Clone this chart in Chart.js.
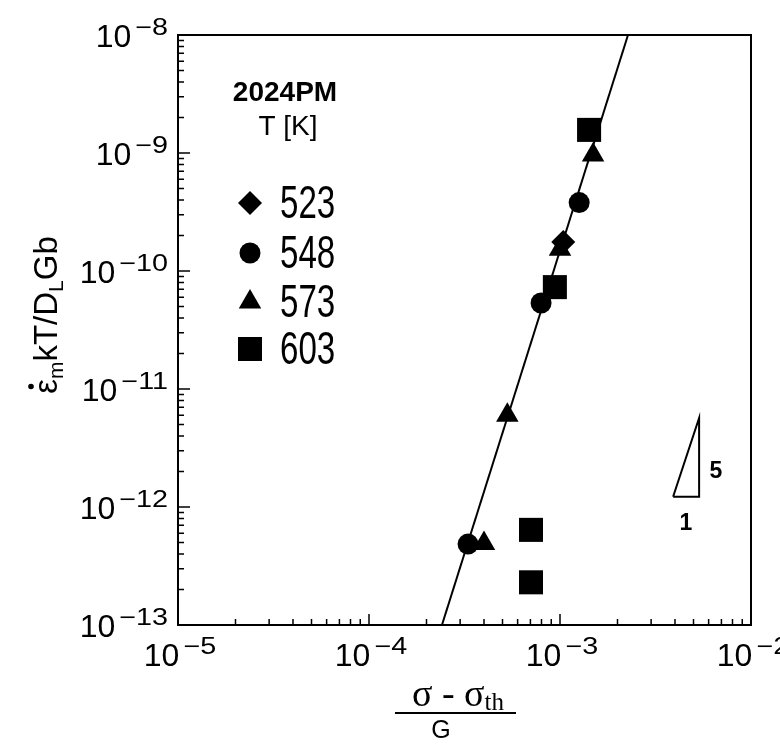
<!DOCTYPE html>
<html>
<head>
<meta charset="utf-8">
<script src="https://cdn.jsdelivr.net/npm/chart.js@4.4.0/dist/chart.umd.min.js"></script>
<style>
  html, body { margin: 0; padding: 0; background: #fff; }
  canvas { display: block; }
</style>
</head>
<body>
<canvas id="chart" width="780" height="748"></canvas>
<script>
// Series: x = (sigma - sigma_th)/G, y = strain rate * kT / (D_L G b)
const temps = ['523', '548', '573', '603'];
const markers = ['rectRot', 'circle', 'triangle', 'rect'];
const markerSizes = [12, 10.5, 13, 17];

const x523 = [1.04e-3];
const y523 = [1.76e-10];
const x548 = [3.3e-4, 7.96e-4, 1.26e-3];
const y548 = [4.85e-13, 5.36e-11, 3.8e-10];
const x573 = [4.0e-4, 5.3e-4, 1.0e-3, 1.49e-3];
const y573 = [4.9e-13, 6.0e-12, 1.53e-10, 9.6e-10];
const x603 = [7.05e-4, 7.05e-4, 9.4e-4, 1.42e-3];
const y603 = [6.4e-13, 2.3e-13, 7.3e-11, 1.57e-9];

// fitted line (slope 5) and the slope triangle
const fitX = [2.41e-4, 2.27e-3];
const fitY = [1e-13, 1e-8];
const slopeX = [3.91e-3, 5.35e-3, 5.35e-3, 3.91e-3];
const slopeY = [1.22e-12, 1.22e-12, 5.68e-12, 1.22e-12];

// axis decades (tick labels are 10^n)
const xDecades = [-5, -4, -3, -2];
const yDecades = [-13, -12, -11, -10, -9, -8];

function pts(xs, ys) {
    return xs.map((x, i) => ({ x: x, y: ys[i] }));
}

const seriesX = [x523, x548, x573, x603];
const seriesY = [y523, y548, y573, y603];

const datasets = [
    {
        type: 'line',
        data: pts(fitX, fitY),
        borderColor: '#000',
        borderWidth: 2,
        pointRadius: 0,
        fill: false
    },
    {
        type: 'line',
        data: pts(slopeX, slopeY),
        borderColor: '#000',
        borderWidth: 2,
        pointRadius: 0,
        fill: false
    }
];
temps.forEach((t, i) => {
    datasets.push({
        type: 'scatter',
        label: t,
        data: pts(seriesX[i], seriesY[i]),
        pointStyle: markers[i],
        pointRadius: markerSizes[i],
        pointHoverRadius: markerSizes[i],
        backgroundColor: '#000',
        borderColor: '#000',
        borderWidth: 0
    });
});

const SANS = '"Liberation Sans", Arial, sans-serif';
const SERIF = '"Liberation Serif", "Times New Roman", serif';

function powLabel(ctx, exp, x, y, align) {
    const base = '10';
    const sup = '\u2212' + Math.abs(exp);
    ctx.font = '32px ' + SANS;
    const wb = ctx.measureText(base).width;
    ctx.font = '23px ' + SANS;
    const ws = ctx.measureText(sup).width * 1.25;
    const gap = 4;
    const total = wb + gap + ws;
    let x0 = align === 'right' ? x - total : x - total / 2;
    ctx.textAlign = 'left';
    ctx.textBaseline = 'middle';
    ctx.font = '32px ' + SANS;
    ctx.fillText(base, x0, y + 1);
    ctx.save();
    ctx.translate(x0 + wb + gap, y - 8);
    ctx.scale(1.25, 1);
    ctx.font = '23px ' + SANS;
    ctx.fillText(sup, 0, 0);
    ctx.restore();
}

// draws runs of text along a baseline starting at x, returns the end x
function drawRuns(ctx, runs, x, y) {
    ctx.textAlign = 'left';
    ctx.textBaseline = 'alphabetic';
    runs.forEach(r => {
        ctx.font = r.font;
        ctx.fillText(r.t, x, y + (r.dy || 0));
        if (r.dot) {
            const w = ctx.measureText(r.t).width;
            ctx.beginPath();
            ctx.arc(x + w / 2, y - 26, 2.8, 0, Math.PI * 2);
            ctx.fill();
        }
        x += ctx.measureText(r.t).width;
    });
    return x;
}
function runsWidth(ctx, runs) {
    let w = 0;
    runs.forEach(r => { ctx.font = r.font; w += ctx.measureText(r.t).width; });
    return w;
}

const frame = {
    id: 'frame',
    afterDraw(chart) {
        const ctx = chart.ctx;
        const a = chart.chartArea;
        const xs = chart.scales.x, ys = chart.scales.y;
        ctx.save();
        ctx.fillStyle = '#000';
        ctx.strokeStyle = '#000';

        // box
        ctx.lineWidth = 2;
        ctx.strokeRect(a.left, a.top, a.right - a.left, a.bottom - a.top);

        // inward ticks on bottom and left axes
        ctx.lineWidth = 1.5;
        ctx.beginPath();
        for (let d = xDecades[0]; d < xDecades[xDecades.length - 1]; d++) {
            for (let m = 1; m <= 9; m++) {
                const px = xs.getPixelForValue(m * Math.pow(10, d));
                ctx.moveTo(px, a.bottom);
                ctx.lineTo(px, a.bottom - (m === 1 ? 11 : 6));
            }
        }
        for (let d = yDecades[0]; d < yDecades[yDecades.length - 1]; d++) {
            for (let m = 1; m <= 9; m++) {
                const py = ys.getPixelForValue(m * Math.pow(10, d));
                ctx.moveTo(a.left, py);
                ctx.lineTo(a.left + (m === 1 ? 12 : 6), py);
            }
        }
        ctx.stroke();

        // tick labels
        xDecades.forEach(d => powLabel(ctx, d, xs.getPixelForValue(Math.pow(10, d)) + 2, 656, 'center'));
        yDecades.forEach(d => powLabel(ctx, d, 168, ys.getPixelForValue(Math.pow(10, d)) + 2, 'right'));

        // legend header
        ctx.textAlign = 'center';
        ctx.textBaseline = 'middle';
        ctx.font = 'bold 28px ' + SANS;
        ctx.fillText('2024PM', 285, 93);
        ctx.font = '28px ' + SANS;
        ctx.fillText('T [K]', 288, 127);

        // legend entries
        const legY = [203, 253, 302, 349];
        temps.forEach((t, i) => {
            const opts = { pointStyle: markers[i], radius: markerSizes[i], rotation: 0, borderWidth: 0 };
            if (Chart.helpers && Chart.helpers.drawPoint) {
                ctx.fillStyle = '#000';
                ctx.strokeStyle = '#000';
                Chart.helpers.drawPoint(ctx, opts, 250, legY[i]);
            }
            ctx.save();
            ctx.translate(280, legY[i] + 2);
            ctx.scale(0.72, 1);
            ctx.font = '46px ' + SANS;
            ctx.textAlign = 'left';
            ctx.textBaseline = 'middle';
            ctx.fillText(t, 0, 0);
            ctx.restore();
        });

        // slope triangle labels
        ctx.font = 'bold 23px ' + SANS;
        ctx.textAlign = 'center';
        ctx.textBaseline = 'middle';
        ctx.fillText('5', 716, 472);
        ctx.fillText('1', 686, 524);

        // y axis title, rotated
        const big = '33px ' + SANS, small = '21px ' + SANS;
        const yRuns = [
            { t: '\u03B5', font: big, dot: true },
            { t: 'm', font: small, dy: 6 },
            { t: 'kT/D', font: big },
            { t: 'L', font: small, dy: 6 },
            { t: 'Gb', font: big }
        ];
        ctx.save();
        ctx.translate(57, 315);
        ctx.rotate(-Math.PI / 2);
        drawRuns(ctx, yRuns, -runsWidth(ctx, yRuns) / 2, 0);
        ctx.restore();

        // x axis title as a fraction
        const xRuns = [
            { t: '\u03C3 - \u03C3', font: '38px ' + SERIF },
            { t: 'th', font: '25px ' + SERIF, dy: 4 }
        ];
        const xw = runsWidth(ctx, xRuns);
        drawRuns(ctx, xRuns, 458 - xw / 2, 706);
        ctx.lineWidth = 2;
        ctx.beginPath();
        ctx.moveTo(395, 713);
        ctx.lineTo(516, 713);
        ctx.stroke();
        ctx.font = '25px ' + SANS;
        ctx.textAlign = 'center';
        ctx.textBaseline = 'alphabetic';
        ctx.fillText('G', 441, 738);

        ctx.restore();
    }
};

new Chart(document.getElementById('chart').getContext('2d'), {
    data: { datasets: datasets },
    options: {
        responsive: false,
        animation: false,
        devicePixelRatio: 1,
        layout: { padding: { left: 178, top: 35, right: 29, bottom: 123 } },
        plugins: { legend: { display: false }, tooltip: { enabled: false } },
        scales: {
            x: { type: 'logarithmic', min: 1e-5, max: 1e-2, display: false },
            y: { type: 'logarithmic', min: 1e-13, max: 1e-8, display: false }
        }
    },
    plugins: [frame]
});
</script>
</body>
</html>
